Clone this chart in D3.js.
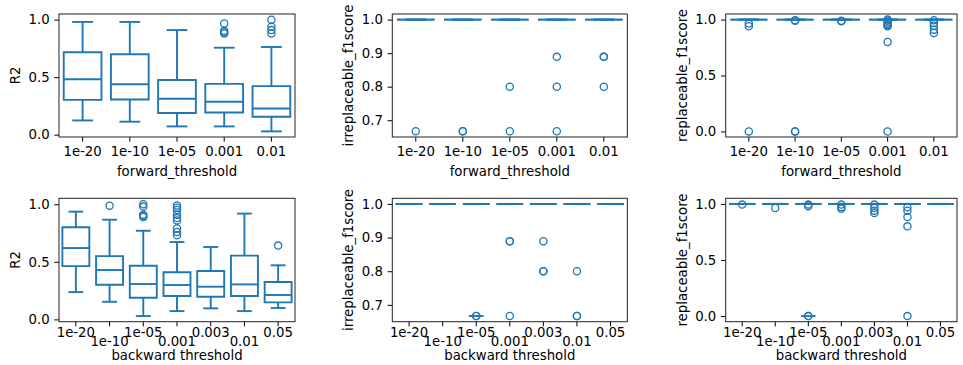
<!DOCTYPE html>
<html lang="en">
<head>
<meta charset="utf-8">
<title>Threshold boxplots</title>
<script src="https://cdnjs.cloudflare.com/ajax/libs/d3/7.8.5/d3.min.js"></script>
<style>
  body { margin: 0; background: #fff; }
  svg text { font-family: "DejaVu Sans", sans-serif; fill: #000; }
</style>
</head>
<body>
<div id="chart"></div>
<script>
// categories
const fwdCats = ["1e-20", "1e-10", "1e-05", "0.001", "0.01"];
const bwdCats = ["1e-20", "1e-10", "1e-05", "0.001", "0.003", "0.01", "0.05"];

// R2, forward threshold
const fwdR2Low  = [0.124, 0.113, 0.072, 0.072, 0.029];
const fwdR2Q1   = [0.303, 0.306, 0.188, 0.193, 0.156];
const fwdR2Med  = [0.482, 0.439, 0.312, 0.286, 0.228];
const fwdR2Q3   = [0.716, 0.699, 0.476, 0.442, 0.422];
const fwdR2High = [0.980, 0.980, 0.909, 0.756, 0.762];
const fwdR2Out  = [[], [], [], [0.967, 0.903, 0.89, 0.88], [1.0, 0.938, 0.909, 0.88]];

// R2, backward threshold
const bwdR2Low  = [0.237, 0.153, 0.029, 0.072, 0.096, 0.072, 0.099];
const bwdR2Q1   = [0.463, 0.301, 0.188, 0.203, 0.197, 0.203, 0.148];
const bwdR2Med  = [0.620, 0.429, 0.307, 0.299, 0.284, 0.304, 0.212];
const bwdR2Q3   = [0.800, 0.550, 0.466, 0.409, 0.420, 0.554, 0.325];
const bwdR2High = [0.936, 0.866, 0.770, 0.672, 0.629, 0.919, 0.470];
const bwdR2Out  = [[], [0.988], [1.0, 0.98, 0.91, 0.895, 0.89],
                   [0.99, 0.97, 0.95, 0.91, 0.88, 0.86, 0.79, 0.76, 0.73], [], [], [0.641]];

// f1 scores: every box collapses onto 1.0
const fwdOnes = [1, 1, 1, 1, 1];
const bwdOnes = [1, 1, 1, 1, 1, 1, 1];
const fwdIrrOut = [[0.667], [0.667, 0.667], [0.8, 0.667], [0.889, 0.8, 0.667], [0.889, 0.889, 0.8]];
const bwdIrrOut = [[], [], [0.667, 0.667], [0.889, 0.889, 0.667], [0.889, 0.8, 0.8], [0.8, 0.667, 0.667], []];
const bwdIrrCap = [null, null, 0.667, null, null, null, null];
const fwdRepOut = [[0.964, 0.94, 0], [0.994, 0.99, 0, 0], [0.99, 0.985],
                   [1.0, 0.99, 0.975, 0.96, 0.95, 0.94, 0.8, 0], [0.994, 0.97, 0.946, 0.91, 0.88]];
const bwdRepOut = [[0.994], [0.964], [0.994, 0.98, 0, 0], [0.994, 0.973, 0.958],
                   [0.994, 0.964, 0.94, 0.919], [0.97, 0.94, 0.883, 0.8, 0], []];
const bwdRepCap = [null, null, 0, null, null, null, null];

const color = "#1f77b4";
const fs = 13.3;

const svg = d3.select("#chart").append("svg")
  .attr("width", 963).attr("height", 365);

function panel(o) {
  const w = o.x1 - o.x0, h = o.y1 - o.y0;
  const g = svg.append("g").attr("transform", `translate(${o.x0},${o.y0})`);
  const x = d3.scaleBand().domain(o.cats).range([0, w]);
  const y = d3.scaleLinear().domain(o.ydom).range([h, 0]);
  const bw = x.bandwidth() * 0.8, cw = bw * 0.55;

  o.cats.forEach((c, i) => {
    const cx = x(c) + x.bandwidth() / 2;
    const bg = g.append("g").attr("fill", "none").attr("stroke", color)
      .attr("stroke-width", 1.9);
    // whiskers + caps
    bg.append("line").attr("x1", cx).attr("x2", cx)
      .attr("y1", y(o.q1[i])).attr("y2", y(o.lo[i]));
    bg.append("line").attr("x1", cx).attr("x2", cx)
      .attr("y1", y(o.q3[i])).attr("y2", y(o.hi[i]));
    [o.lo[i], o.hi[i]].forEach(v => bg.append("line")
      .attr("x1", cx - cw / 2).attr("x2", cx + cw / 2)
      .attr("y1", y(v)).attr("y2", y(v)));
    if (o.cap && o.cap[i] != null) {
      bg.append("line").attr("x1", cx - cw / 2).attr("x2", cx + cw / 2)
        .attr("y1", y(o.cap[i])).attr("y2", y(o.cap[i]));
    }
    // box + median
    bg.append("path").attr("d",
      `M${cx - bw / 2},${y(o.q1[i])}H${cx + bw / 2}V${y(o.q3[i])}H${cx - bw / 2}Z`);
    bg.append("line").attr("x1", cx - bw / 2).attr("x2", cx + bw / 2)
      .attr("y1", y(o.med[i])).attr("y2", y(o.med[i]));
    // fliers
    g.selectAll(null).data(o.out[i]).join("circle")
      .attr("cx", cx).attr("cy", d => y(d)).attr("r", 3.6)
      .attr("fill", "none").attr("stroke", color).attr("stroke-width", 1.3);
  });

  // axes
  const ya = g.append("g").call(d3.axisLeft(y).tickValues(o.yticks)
    .tickFormat(d3.format(".1f")).tickSize(4.7).tickPadding(4.7));
  const xa = g.append("g").attr("transform", `translate(0,${h})`)
    .call(d3.axisBottom(x).tickSize(4.7).tickPadding(4.7));
  [ya, xa].forEach(a => {
    a.select(".domain").remove();
    a.selectAll("line").attr("stroke", "#000").attr("stroke-width", 1);
    a.selectAll("text").attr("font-size", fs).attr("font-family", "DejaVu Sans");
  });
  if (o.stagger) {
    xa.selectAll(".tick text").attr("y", (d, i) => i % 2 === 1 ? 14.4 : 5.6);
  }
  g.append("rect").attr("width", w).attr("height", h)
    .attr("fill", "none").attr("stroke", "#222").attr("stroke-width", 1);

  g.append("text").attr("x", w / 2).attr("y", h + 38.5)
    .attr("text-anchor", "middle").attr("font-size", fs).text(o.xlabel);
  g.append("text").attr("transform", `translate(-39,${h / 2}) rotate(-90)`)
    .attr("text-anchor", "middle").attr("font-size", fs).text(o.ylabel);
}

const cols = [[59, 295], [392.3, 627.3], [725.7, 957]];
const rows = [[14, 137], [198.3, 321.7]];

panel({ x0: cols[0][0], x1: cols[0][1], y0: rows[0][0], y1: rows[0][1], cats: fwdCats,
  ydom: [-0.02, 1.049], yticks: [0, 0.5, 1.0],
  lo: fwdR2Low, q1: fwdR2Q1, med: fwdR2Med, q3: fwdR2Q3, hi: fwdR2High, out: fwdR2Out,
  xlabel: "forward_threshold", ylabel: "R2" });
panel({ x0: cols[1][0], x1: cols[1][1], y0: rows[0][0], y1: rows[0][1], cats: fwdCats,
  ydom: [0.65, 1.0167], yticks: [0.7, 0.8, 0.9, 1.0],
  lo: fwdOnes, q1: fwdOnes, med: fwdOnes, q3: fwdOnes, hi: fwdOnes, out: fwdIrrOut,
  xlabel: "forward_threshold", ylabel: "irreplaceable_f1score" });
panel({ x0: cols[2][0], x1: cols[2][1], y0: rows[0][0], y1: rows[0][1], cats: fwdCats,
  ydom: [-0.05, 1.05], yticks: [0, 0.5, 1.0],
  lo: fwdOnes, q1: fwdOnes, med: fwdOnes, q3: fwdOnes, hi: fwdOnes, out: fwdRepOut,
  xlabel: "forward_threshold", ylabel: "replaceable_f1score" });

panel({ x0: cols[0][0], x1: cols[0][1], y0: rows[1][0], y1: rows[1][1], cats: bwdCats,
  ydom: [-0.02, 1.052], yticks: [0, 0.5, 1.0], stagger: true,
  lo: bwdR2Low, q1: bwdR2Q1, med: bwdR2Med, q3: bwdR2Q3, hi: bwdR2High, out: bwdR2Out,
  xlabel: "backward threshold", ylabel: "R2" });
panel({ x0: cols[1][0], x1: cols[1][1], y0: rows[1][0], y1: rows[1][1], cats: bwdCats,
  ydom: [0.65, 1.0167], yticks: [0.7, 0.8, 0.9, 1.0], stagger: true,
  lo: bwdOnes, q1: bwdOnes, med: bwdOnes, q3: bwdOnes, hi: bwdOnes, out: bwdIrrOut, cap: bwdIrrCap,
  xlabel: "backward threshold", ylabel: "irreplaceable_f1score" });
panel({ x0: cols[2][0], x1: cols[2][1], y0: rows[1][0], y1: rows[1][1], cats: bwdCats,
  ydom: [-0.05, 1.05], yticks: [0, 0.5, 1.0], stagger: true,
  lo: bwdOnes, q1: bwdOnes, med: bwdOnes, q3: bwdOnes, hi: bwdOnes, out: bwdRepOut, cap: bwdRepCap,
  xlabel: "backward threshold", ylabel: "replaceable_f1score" });
</script>
</body>
</html>
